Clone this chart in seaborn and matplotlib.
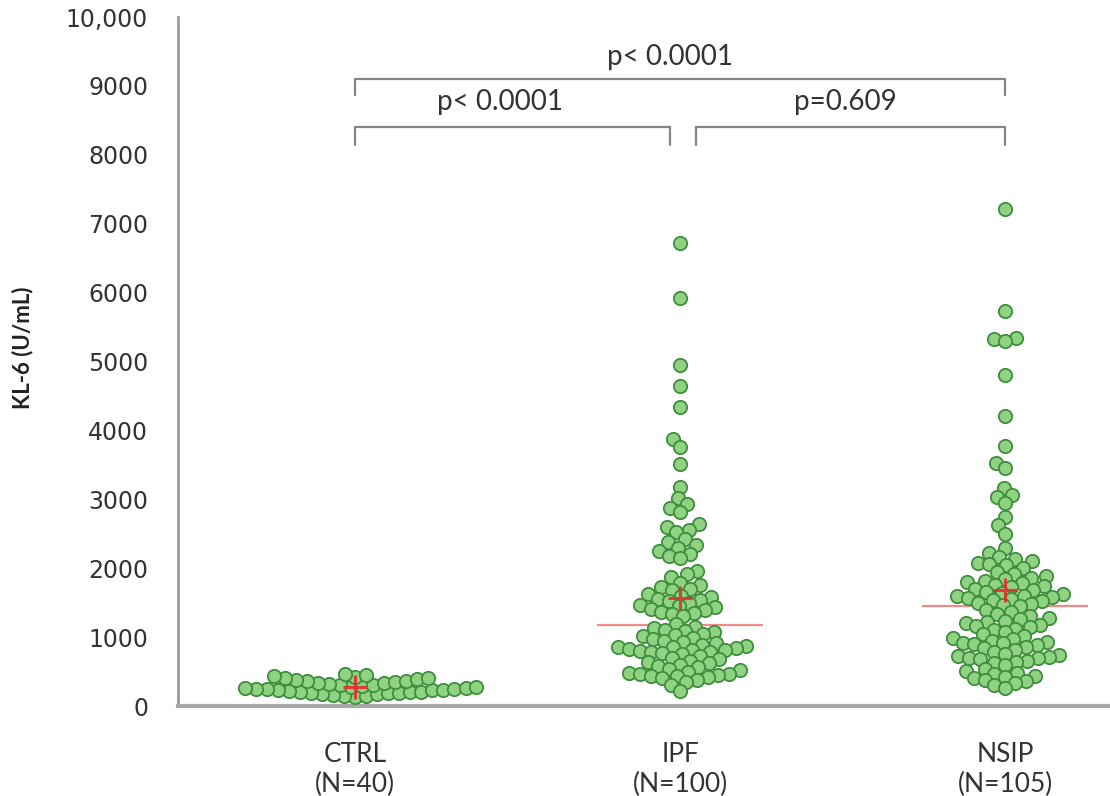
import numpy as np
import pandas as pd
import seaborn as sns
import matplotlib.pyplot as plt

# ---------------- data ----------------
categories = ["CTRL", "IPF", "NSIP"]
n_labels = ["(N=40)", "(N=100)", "(N=105)"]

ctrl_values = [130, 140, 150, 160, 170, 180, 185, 190, 195, 200,
               205, 210, 220, 225, 230, 235, 240, 245, 250, 255,
               265, 270, 280, 290, 300, 310, 320, 330, 340, 350,
               360, 370, 380, 390, 400, 410, 420, 430, 450, 470]

ipf_values = [6720, 5920, 4950, 4640, 4340, 3880, 3760, 3510, 3180,
              3020, 2930, 2870, 2810,
              2640, 2600, 2560, 2520,
              2420, 2380, 2340, 2300,
              2250, 2210, 2180, 2150,
              1960, 1910, 1870,
              1790, 1760, 1730, 1700, 1680,
              1620, 1600, 1580, 1560, 1540, 1520, 1500,
              1470, 1450, 1430, 1410, 1390, 1370, 1350, 1330, 1310,
              1190,
              1150, 1130, 1110, 1090, 1070, 1050, 1030, 1010, 990, 970, 950,
              930, 910, 890, 870, 860, 850, 840, 830, 820, 810, 800, 790, 780, 770, 760,
              720, 700, 680, 660, 640, 620, 600, 580, 560, 540, 520, 500,
              480, 470, 460, 450, 440, 430, 420, 400, 380, 350, 310,
              220]

nsip_values = [7220, 5740, 5340, 5320, 5300, 4810, 4210, 3780, 3530, 3450,
               3170, 3060, 3040, 2940, 2740, 2620, 2500, 2300, 2220,
               2160, 2130, 2100, 2080, 2060, 2040, 2010,
               1950, 1920, 1890, 1860, 1840, 1820, 1800, 1780, 1760, 1740, 1720, 1700,
               1680, 1660, 1640, 1620, 1600, 1590, 1580, 1570, 1560, 1540, 1520, 1500, 1480, 1470,
               1456,
               1400, 1370, 1340, 1310, 1280, 1260, 1240, 1220, 1200, 1180, 1160, 1140, 1120, 1100, 1080,
               1040, 1010, 990, 970, 950, 930, 920, 910, 900, 880, 860, 840, 820,
               780, 760, 740, 720, 710, 700, 690, 680, 660, 640, 620, 600,
               540, 510, 480, 460, 440, 420, 400, 380, 360, 330, 300, 260]

y_ticks = [0, 1000, 2000, 3000, 4000, 5000, 6000, 7000, 8000, 9000, 10000]
y_tick_labels = ["0", "1000", "2000", "3000", "4000", "5000", "6000",
                 "7000", "8000", "9000", "10,000"]

comparisons = [  # (group a, group b, label)
    ("CTRL", "IPF", "p< 0.0001"),
    ("IPF", "NSIP", "p=0.609"),
    ("CTRL", "NSIP", "p< 0.0001"),
]

# ---------------- frame ----------------
groups = {"CTRL": ctrl_values, "IPF": ipf_values, "NSIP": nsip_values}
df = pd.DataFrame({
    "group": sum([[g] * len(v) for g, v in groups.items()], []),
    "value": sum([list(v) for v in groups.values()], []),
})

sns.set_theme(style="white")
plt.rcParams["font.family"] = ["DejaVu Sans"]

fig = plt.figure(figsize=(11.1, 7.96), dpi=100)
W, H = 1110, 796
ax = fig.add_axes([178 / W, (796 - 706) / H, (1110 - 178) / W, (706 - 17) / H])

ax.set_xlim(-0.545, 2.323)
ax.set_ylim(0, 10000)

# swarm laid out with a compact marker so that the displayed markers overlap
layout_size = 6.3
display_size = 9.6
sns.swarmplot(data=df, x="group", y="value", order=categories,
              color="#8fd282", edgecolor="#3e8e3e", linewidth=1.3,
              size=layout_size, ax=ax, zorder=3, warn_thresh=1.0)
ax.set_xlim(-0.545, 2.323)
ax.set_ylim(0, 10000)
fig.canvas.draw()  # let seaborn compute the swarm positions
for coll in ax.collections:
    if "draw" in coll.__dict__:
        del coll.draw  # freeze computed positions
    coll.set_sizes([display_size ** 2])

# medians and means
for i, cat in enumerate(categories):
    vals = np.array(groups[cat])
    ax.hlines(np.median(vals), i - 0.255, i + 0.255, color="#f28a8a",
              lw=1.6, zorder=2)
    ax.plot(i, np.mean(vals), marker="+", ms=17, mew=2.2,
            color="#e2302b", zorder=5, alpha=0.9)

ax.set_xlim(-0.545, 2.323)
ax.set_ylim(0, 10000)
ax.set_yticks(y_ticks)
ax.set_yticklabels(y_tick_labels)
ax.set_xticks(range(len(categories)))
ax.set_xticklabels([f"{c}\n{n}" for c, n in zip(categories, n_labels)],
                   family=["Lato", "DejaVu Sans"], fontsize=19,
                   color="#333333", linespacing=1.25)
ax.set_xlabel("")
ax.set_ylabel("KL-6 (U/mL)", family=["Lato", "DejaVu Sans"],
              fontweight="bold", fontsize=16, color="#222222")
ax.yaxis.set_label_coords(-0.155, 0.52)

for s in ["top", "right"]:
    ax.spines[s].set_visible(False)
ax.spines["left"].set_color("#9a9a9a")
ax.spines["left"].set_linewidth(2)
ax.spines["bottom"].set_color("#a8a8a8")
ax.spines["bottom"].set_linewidth(3)

ax.tick_params(axis="y", direction="inout", length=15, width=1.5,
               color="#9a9a9a", pad=14, labelsize=17, labelcolor="#333333")
ax.tick_params(axis="x", length=0, pad=26)
ax.grid(False)

# brackets
pos = {c: i for i, c in enumerate(categories)}
bracket_color = "#858585"
levels = {("CTRL", "IPF"): (8142, 8404, 8766, 0.0, -0.03, 0.446),
          ("IPF", "NSIP"): (8142, 8404, 8766, 0.05, 0.0, 1.508),
          ("CTRL", "NSIP"): (8868, 9100, 9419, 0.0, 0.0, 0.969)}
for a, b, lab in comparisons:
    low, top, ty, da, db, xm = levels[(a, b)]
    xa, xb = pos[a] + da, pos[b] + db
    ax.plot([xa, xa, xb, xb], [low, top, top, low], color=bracket_color,
            lw=1.6, clip_on=False, solid_joinstyle="miter")
    ax.text(xm, ty, lab, ha="center", va="center", fontsize=20,
            family=["Lato", "DejaVu Sans"], color="#333333")

fig.savefig("out.png", dpi=100, facecolor="white")
